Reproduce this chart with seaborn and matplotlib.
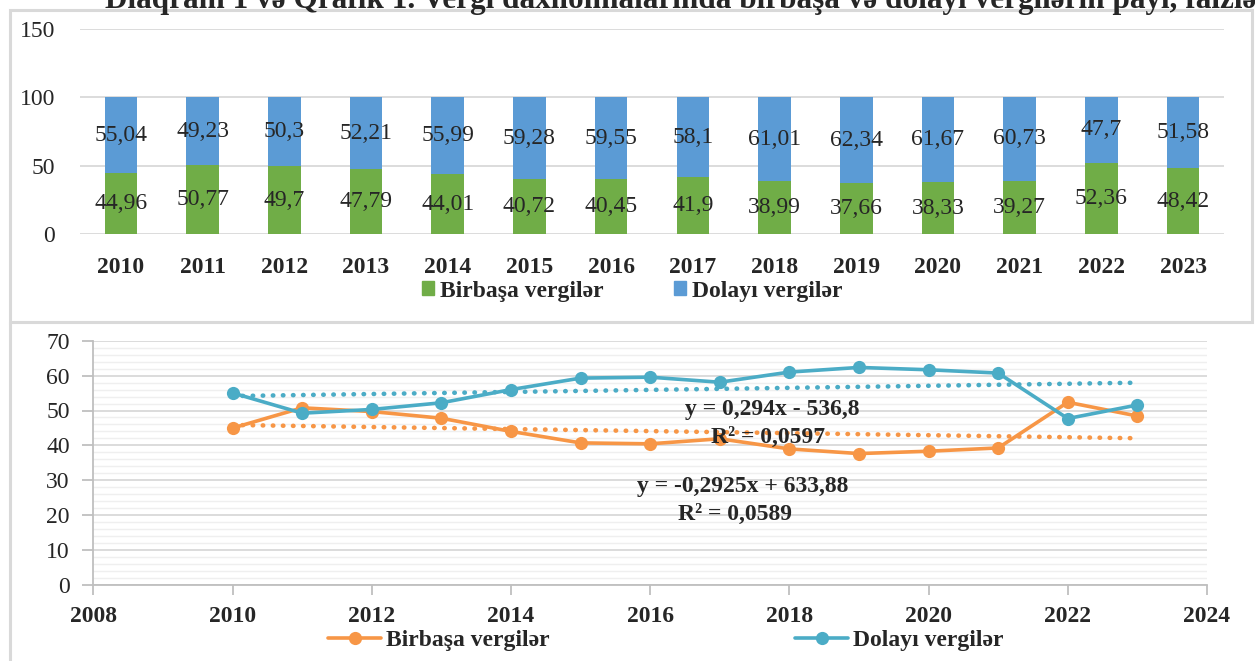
import matplotlib
matplotlib.use('Agg')
import matplotlib.pyplot as plt
import seaborn as sns
import numpy as np
import pandas as pd
from matplotlib.patches import Patch, Rectangle
from matplotlib.lines import Line2D
from matplotlib.ticker import MultipleLocator

# ---------------- data ----------------
years = [2010, 2011, 2012, 2013, 2014, 2015, 2016, 2017, 2018, 2019, 2020, 2021, 2022, 2023]
birbasa = [44.96, 50.77, 49.7, 47.79, 44.01, 40.72, 40.45, 41.9, 38.99, 37.66, 38.33, 39.27, 52.36, 48.42]
dolayi = [55.04, 49.23, 50.3, 52.21, 55.99, 59.28, 59.55, 58.1, 61.01, 62.34, 61.67, 60.73, 47.7, 51.58]
year_labels = [str(y) for y in years]
series_names = ["Birbaşa vergilər", "Dolayı vergilər"]
bar_yticks = [0, 50, 100, 150]
line_xticks = list(range(2008, 2025, 2))
line_yticks = list(range(0, 71, 10))
title_text = "Diaqram 1 və Qrafik 1. Vergi daxilolmalarında birbaşa və dolayı vergilərin payı, faizlə"
eq_dolayi = "y = 0,294x - 536,8"
r2_dolayi = "R² = 0,0597"
eq_birbasa = "y = -0,2925x + 633,88"
r2_birbasa = "R² = 0,0589"

GREEN = "#70AD47"
BLUE = "#5B9BD5"
ORANGE = "#F79646"
TEAL = "#4BACC6"
GRID = "#D9D9D9"
MINOR = "#EFEFEF"
AXIS = "#BFBFBF"

sns.set_style('white')
plt.rcParams['font.family'] = ['Liberation Serif', 'DejaVu Serif']
FS = 17

W, H = 1255, 661
fig = plt.figure(figsize=(W / 100, H / 100), dpi=100)


def ax_rect(l, t, r, b):
    return [l / W, 1 - b / H, (r - l) / W, (b - t) / H]


def fmt(v):
    return f"{v:g}".replace('.', ',')


# ---------------- panel borders ----------------
fig.add_artist(Rectangle((9.5 / W, 1 - 321.5 / H), (1252 - 9.5) / W, (321.5 - 10) / H,
                         transform=fig.transFigure, fill=False, ec=GRID, lw=2.2))
fig.add_artist(Line2D([9.5 / W, 9.5 / W], [0, 1 - 321.5 / H], transform=fig.transFigure,
                      color=GRID, lw=2.2))

# ---------------- title (cut at top, as in the source page) ----------------
fig.text(105 / W, 1 - 8 / H, title_text, ha='left', va='baseline', fontsize=22.5, weight='bold')

# ---------------- top: stacked bars ----------------
ax1 = fig.add_axes(ax_rect(80, 29, 1224, 234.3))
df = pd.DataFrame({'year': year_labels, 'b': birbasa, 'd': dolayi})
df['total'] = df['b'] + df['d']
sns.barplot(data=df, x='year', y='total', color=BLUE, width=0.4, saturation=1,
            linewidth=0, ax=ax1, zorder=2)
sns.barplot(data=df, x='year', y='b', color=GREEN, width=0.4, saturation=1,
            linewidth=0, ax=ax1, zorder=3)
for i, (b, d) in enumerate(zip(birbasa, dolayi)):
    ax1.text(i, b / 2, fmt(b), ha='center', va='center', fontsize=FS, zorder=5)
    ax1.text(i, b + d / 2, fmt(d), ha='center', va='center', fontsize=FS, zorder=5)
ax1.set_xlim(-0.5, len(years) - 0.5)
ax1.set_ylim(0, 150)
ax1.set_yticks(bar_yticks)
ax1.set_axisbelow(True)
ax1.grid(axis='y', color=GRID, lw=1.3)
ax1.grid(axis='x', visible=False)
for s in ax1.spines.values():
    s.set_visible(False)
ax1.set_xlabel('')
ax1.set_ylabel('')
ax1.tick_params(axis='x', length=0, pad=16, labelsize=FS)
ax1.tick_params(axis='y', length=0, pad=18, labelsize=FS)
for lab in ax1.get_xticklabels():
    lab.set_fontweight('bold')

fig.legend([Patch(color=GREEN), Patch(color=BLUE)], series_names, loc='center',
           bbox_to_anchor=(632 / W, 1 - 291 / H), ncol=2, frameon=False,
           handlelength=0.5, handleheight=0.5, handletextpad=0.25, columnspacing=3.0,
           prop=dict(weight='bold', size=FS))

# ---------------- bottom: lines with trends ----------------
ax2 = fig.add_axes(ax_rect(93.3, 340.7, 1207, 585))
sns.regplot(x=years, y=birbasa, scatter=False, ci=None, color=ORANGE, ax=ax2,
            line_kws=dict(linewidth=3.3, linestyle=(0, (0.1, 2.1)), dash_capstyle='round', zorder=3))
sns.regplot(x=years, y=dolayi, scatter=False, ci=None, color=TEAL, ax=ax2,
            line_kws=dict(linewidth=3.3, linestyle=(0, (0.1, 2.1)), dash_capstyle='round', zorder=3))
sns.lineplot(x=years, y=birbasa, color=ORANGE, marker='o', markersize=9.5, markeredgewidth=0,
             linewidth=2.6, ax=ax2, zorder=4)
sns.lineplot(x=years, y=dolayi, color=TEAL, marker='o', markersize=9.5, markeredgewidth=0,
             linewidth=2.6, ax=ax2, zorder=5)
ax2.set_xlim(2008, 2024)
ax2.set_ylim(0, 70)
ax2.set_xticks(line_xticks)
ax2.set_yticks(line_yticks)
ax2.yaxis.set_minor_locator(MultipleLocator(2))
ax2.set_axisbelow(True)
ax2.grid(axis='y', which='major', color=GRID, lw=1.3)
ax2.grid(axis='y', which='minor', color=MINOR, lw=1.0)
ax2.grid(axis='x', visible=False)
for side in ['top', 'right']:
    ax2.spines[side].set_visible(False)
for side in ['left', 'bottom']:
    ax2.spines[side].set_color(AXIS)
    ax2.spines[side].set_linewidth(1.3)
ax2.tick_params(axis='x', which='major', direction='out', length=7, width=1.3, color=AXIS,
                pad=8, labelsize=FS, bottom=True)
ax2.tick_params(axis='y', which='major', direction='out', length=8, width=1.3, color=AXIS,
                pad=9, labelsize=FS, left=True)
ax2.tick_params(axis='y', which='minor', length=0)
for lab in ax2.get_xticklabels():
    lab.set_fontweight('bold')
ax2.set_xlabel('')
ax2.set_ylabel('')

ax2.text(2017.75, 50.4, eq_dolayi, ha='center', va='center', fontsize=FS, weight='bold', zorder=6)
ax2.text(2017.7, 42.4, r2_dolayi, ha='center', va='center', fontsize=FS, weight='bold', zorder=6)
ax2.text(2017.33, 28.1, eq_birbasa, ha='center', va='center', fontsize=FS, weight='bold', zorder=6)
ax2.text(2017.22, 20.3, r2_birbasa, ha='center', va='center', fontsize=FS, weight='bold', zorder=6)

leg_handles = [Line2D([], [], color=ORANGE, lw=2.6, marker='o', markersize=9.5, markeredgewidth=0),
               Line2D([], [], color=TEAL, lw=2.6, marker='o', markersize=9.5, markeredgewidth=0)]
fig.legend(leg_handles, series_names, loc='center', bbox_to_anchor=(666 / W, 1 - 640 / H),
           ncol=2, frameon=False, handlelength=2.25, handletextpad=0.2, columnspacing=10.4,
           prop=dict(weight='bold', size=FS))

fig.savefig('out.png', dpi=100)
